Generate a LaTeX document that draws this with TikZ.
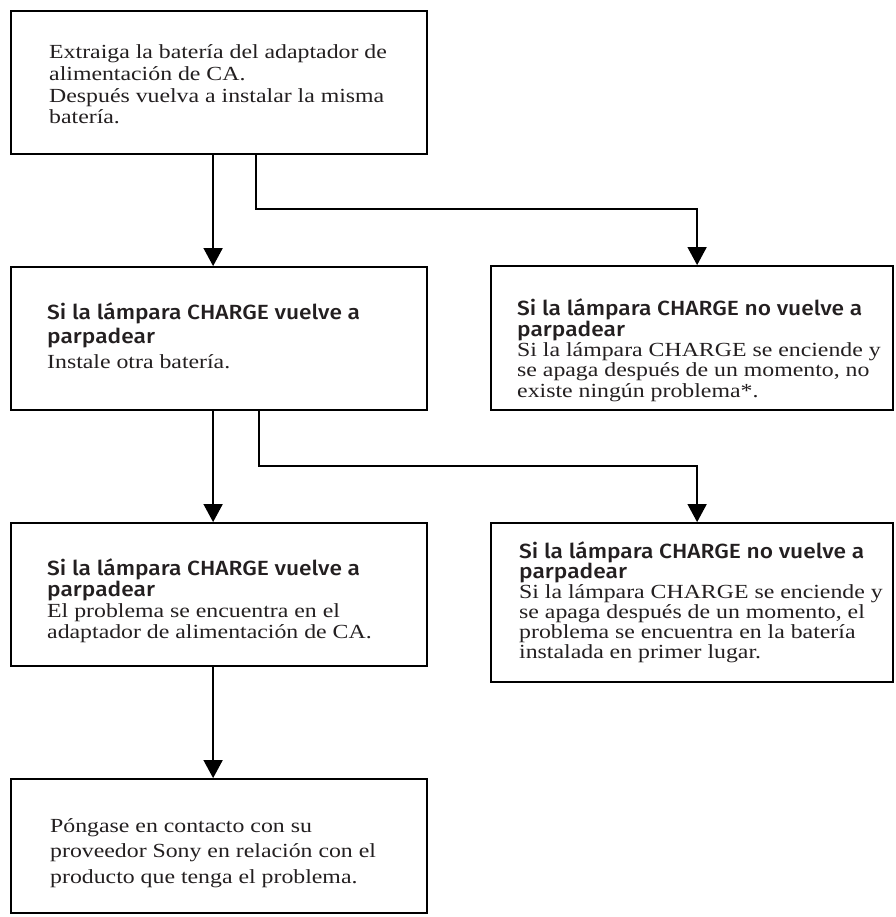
\documentclass[tikz,border=0pt]{standalone}
\usepackage{fontspec}
\setmainfont{Liberation Serif}
\newfontfamily\bodyfont{Liberation Serif}[FakeStretch=1.19]
\newfontfamily\headfont{Fira Sans Medium}[FakeStretch=1.11]
\newcommand{\hdf}[1]{\headfont\fontsize{20.5}{#1}\selectfont}
\usetikzlibrary{arrows.meta}
\definecolor{ink}{HTML}{231F20}
\begin{document}
\begin{tikzpicture}[x=1pt,y=-1pt,
  box/.style={draw=black,line width=1.8pt,rectangle,inner sep=0pt},
  arr/.style={line width=1.6pt,-{Triangle[width=19pt,length=18pt]}},
  txt/.style={anchor=base west,inner sep=0pt,align=left,text=ink}]
\useasboundingbox (0,0) rectangle (895,917);
% boxes
\node[box,minimum width=416pt,minimum height=143pt] (b1) at (219,82.5) {};
\node[box,minimum width=416pt,minimum height=143pt] (b2) at (219,338.5) {};
\node[box,minimum width=402pt,minimum height=144pt] (b3) at (692,338) {};
\node[box,minimum width=416pt,minimum height=143pt] (b4) at (219,594.5) {};
\node[box,minimum width=402pt,minimum height=159pt] (b5) at (692,602.5) {};
\node[box,minimum width=416pt,minimum height=134pt] (b6) at (219,846) {};
% texts (anchored at the baseline of their last line)
\node[txt,font=\bodyfont\fontsize{20}{21.7}\selectfont] (t1) at (49,124)
  {Extraiga la batería del adaptador de\\alimentación de CA.\\Después vuelva a instalar la misma\\batería.};
\node[txt,font=\bodyfont\fontsize{20}{24.5}\selectfont] (t2) at (47,368)
  {\hdf{24.5}Si la lámpara CHARGE vuelve a\\\hdf{24.5}parpadear\\Instale otra batería.};
\node[txt,font=\bodyfont\fontsize{20}{20.3}\selectfont] (t3) at (517,397)
  {\hdf{20.3}Si la lámpara CHARGE no vuelve a\\\hdf{20.3}parpadear\\Si la lámpara CHARGE se enciende y\\se apaga después de un momento, no\\existe ningún problema*.};
\node[txt,font=\bodyfont\fontsize{20}{21}\selectfont] (t4) at (47,638)
  {\hdf{21}Si la lámpara CHARGE vuelve a\\\hdf{21}parpadear\\El problema se encuentra en el\\adaptador de alimentación de CA.};
\node[txt,font=\bodyfont\fontsize{20}{20}\selectfont] (t5) at (519,658)
  {\hdf{20}Si la lámpara CHARGE no vuelve a\\\hdf{20}parpadear\\Si la lámpara CHARGE se enciende y\\se apaga después de un momento, el\\problema se encuentra en la batería\\instalada en primer lugar.};
\node[txt,font=\bodyfont\fontsize{20}{25.5}\selectfont] (t6) at (50,883)
  {Póngase en contacto con su\\proveedor Sony en relación con el\\producto que tenga el problema.};
% connectors
\draw[arr] ([xshift=203pt]b1.south west) -- ([xshift=203pt]b2.north west);
\draw[arr] ([xshift=246pt]b1.south west) -- ++(0,54) -| ([xshift=207pt]b3.north west);
\draw[arr] ([xshift=203pt]b2.south west) -- ([xshift=203pt]b4.north west);
\draw[arr] ([xshift=249pt]b2.south west) -- ++(0,55) -| ([xshift=207pt]b5.north west);
\draw[arr] ([xshift=203pt]b4.south west) -- ([xshift=203pt]b6.north west);
\end{tikzpicture}
\end{document}
